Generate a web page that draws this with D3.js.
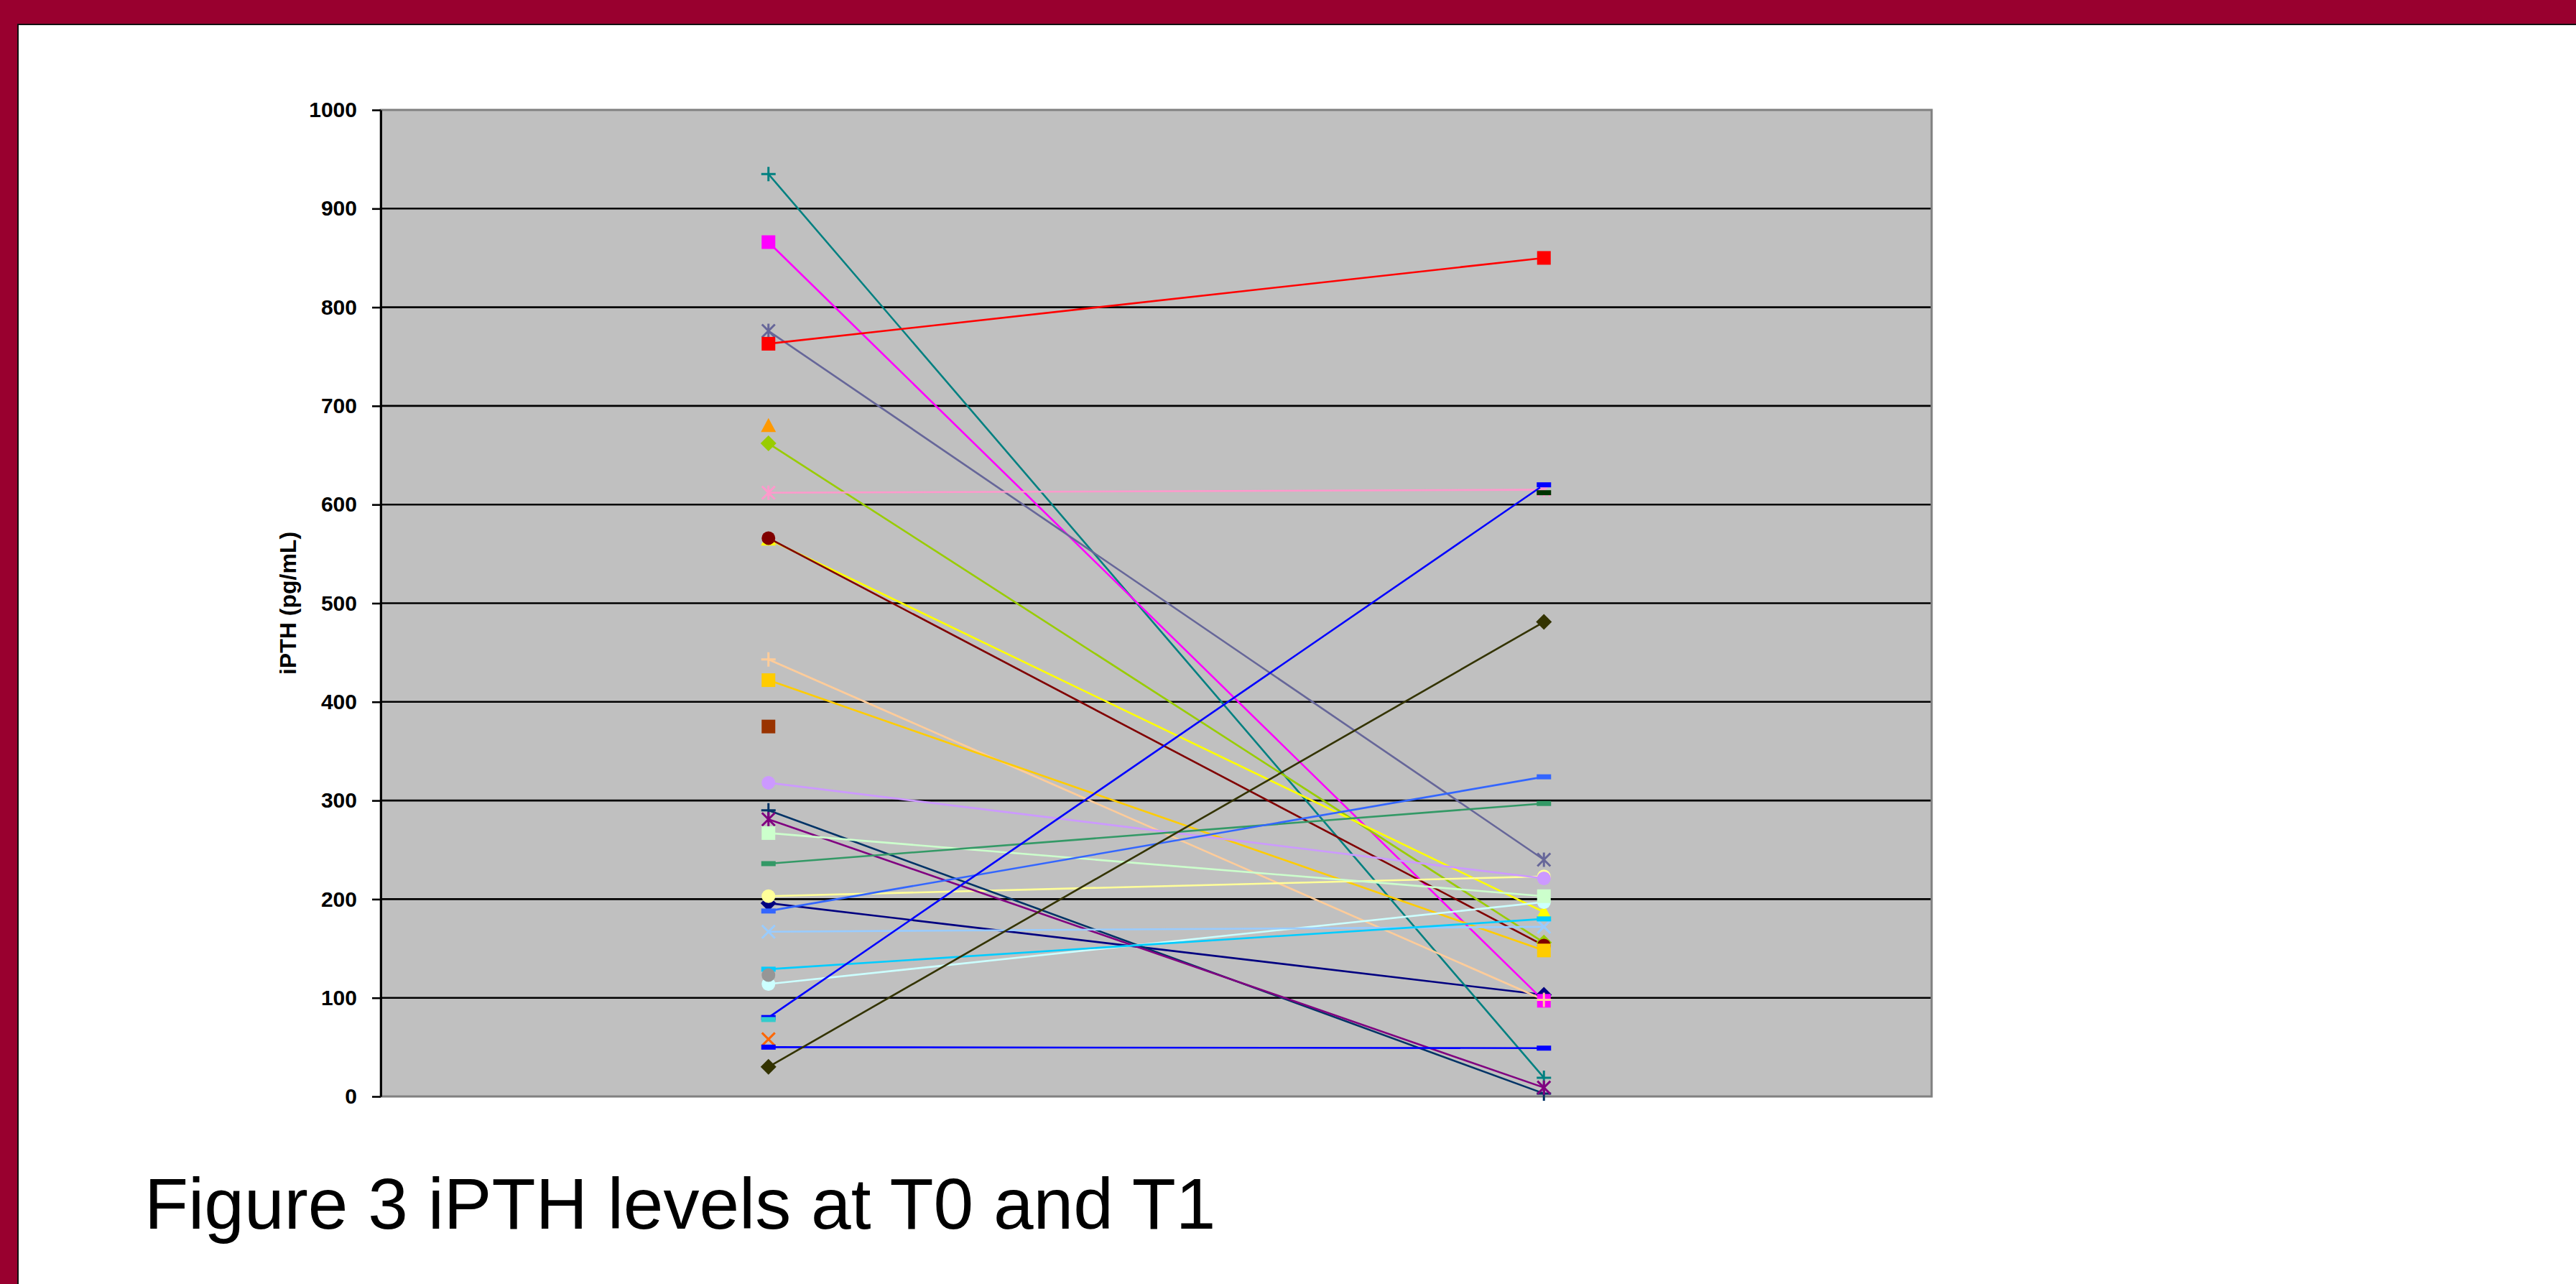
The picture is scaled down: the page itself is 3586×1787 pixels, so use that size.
<!DOCTYPE html>
<html>
<head>
<meta charset="utf-8">
<script src="https://cdn.jsdelivr.net/npm/d3@7"></script>
<style>
  html, body { margin: 0; padding: 0; background: #ffffff; }
  svg { display: block; }
</style>
</head>
<body>
<svg id="fig" width="3586" height="1787"></svg>
<script>
// Time points on the category axis
const categories = ["T0", "T1"];

// One entry per patient; null means no measurement at that time point
const patients = [
  "P01", "P02", "P03", "P04", "P05", "P06", "P07", "P08", "P09", "P10",
  "P11", "P12", "P13", "P14", "P15", "P16", "P17", "P18", "P19", "P20",
  "P21", "P22", "P23", "P24", "P25", "P26", "P27", "P28", "P29", "P30"
];
const t0Values = [
  196, 935, 866, 776, 763, 680, 662, 612, 565, 566,
  443, 422, 375, 203, 318, 290, 281, 114, 267, 236,
  188, 167, 129, 123, null, 80, 78, 58, 50, 30
];
const t1Values = [
  103, 19, 97, 240, 850, null, 156, 615, 187, 153,
  98, 148, null, 223, 221, 3, 9, 197, 203, 297,
  324, 172, 180, null, 612, 620, null, null, 49, 481
];

// Series palette and marker shapes, in series order
const lineColors = [
  "#000080", "#008080", "#FF00FF", "#666699", "#FF0000", "#FF9900", "#99CC00", "#FF99CC", "#FFFF00", "#800000",
  "#FFCC99", "#FFCC00", "#993300", "#FFFF99", "#CC99FF", "#003366", "#800080", "#CCFFFF", "#CCFFCC", "#339966",
  "#3366FF", "#99CCFF", "#00CCFF", "#969696", "#003300", "#0000FF", "#33CCCC", "#FF6600", "#0000FF", "#333300"
];
const markerKinds = [
  "diamond", "plus", "square", "star", "square", "triangle", "diamond", "star", "triangle", "circle",
  "plus", "square", "square", "circle", "circle", "plus", "star", "circle", "square", "dash",
  "dash", "x", "dash", "circle", "dash", "dash", "dash", "x", "dash", "diamond"
];

// Axis labelling
const yTicks = [0, 100, 200, 300, 400, 500, 600, 700, 800, 900, 1000];
const yTitle = "iPTH (pg/mL)";
const caption = "Figure 3 iPTH levels at T0 and T1";

const W = 3586, H = 1787;
const plot = { left: 530, right: 2689, top: 153, bottom: 1526 };
const FONT = "'Liberation Sans', Arial, Helvetica, sans-serif";

const svg = d3.select("#fig");

// Page: dark red frame with a white sheet
svg.append("rect").attr("x", 0).attr("y", 0).attr("width", W).attr("height", H).attr("fill", "#99002F");
svg.append("rect").attr("x", 25).attr("y", 34).attr("width", W - 25).attr("height", H - 34).attr("fill", "#ffffff");
svg.append("path")
  .attr("d", `M25,${H} L25,34 L${W},34`)
  .attr("fill", "none").attr("stroke", "#111").attr("stroke-width", 2);

const x = d3.scaleBand().domain(categories).range([plot.left, plot.right]);
const cx = c => x(c) + x.bandwidth() / 2;
const y = d3.scaleLinear().domain([0, 1000]).range([plot.bottom, plot.top]);

// Plot area
svg.append("rect")
  .attr("x", plot.left).attr("y", plot.top)
  .attr("width", plot.right - plot.left).attr("height", plot.bottom - plot.top)
  .attr("fill", "#C0C0C0");

// Horizontal gridlines
svg.append("g")
  .selectAll("line")
  .data(yTicks.filter(v => v > 0 && v < 1000))
  .join("line")
  .attr("x1", plot.left).attr("x2", plot.right)
  .attr("y1", d => y(d)).attr("y2", d => y(d))
  .attr("stroke", "#000").attr("stroke-width", 2.6);

// Plot border
svg.append("rect")
  .attr("x", plot.left).attr("y", plot.top)
  .attr("width", plot.right - plot.left).attr("height", plot.bottom - plot.top)
  .attr("fill", "none").attr("stroke", "#808080").attr("stroke-width", 3);

// Value axis
const yAxis = svg.append("g")
  .attr("transform", `translate(${plot.left},0)`)
  .call(d3.axisLeft(y).tickValues(yTicks).tickFormat(d3.format("d"))
    .tickSize(12).tickSizeOuter(0).tickPadding(21));
yAxis.select(".domain").attr("stroke", "#000").attr("stroke-width", 3);
yAxis.selectAll(".tick line").attr("stroke", "#000").attr("stroke-width", 2.6);
yAxis.selectAll(".tick text")
  .attr("fill", "#000")
  .style("font-family", FONT).style("font-weight", "bold").style("font-size", "30px");

svg.append("text")
  .attr("transform", `translate(401,${(plot.top + plot.bottom) / 2}) rotate(-90)`)
  .attr("text-anchor", "middle").attr("dominant-baseline", "central")
  .style("font-family", FONT).style("font-weight", "bold").style("font-size", "32px")
  .attr("fill", "#000")
  .text(yTitle);

// Series records
const series = patients.map((name, i) => ({
  name,
  color: lineColors[i],
  kind: markerKinds[i],
  points: categories.map((c, j) => ({ c, v: j === 0 ? t0Values[i] : t1Values[i] }))
}));

// Connecting lines
const line = d3.line()
  .defined(d => d.v !== null)
  .x(d => cx(d.c))
  .y(d => y(d.v));

svg.append("g")
  .selectAll("path")
  .data(series.filter(s => s.points.every(p => p.v !== null)))
  .join("path")
  .attr("d", s => line(s.points))
  .attr("fill", "none")
  .attr("stroke", s => s.color)
  .attr("stroke-width", 2.6);

// Marker glyphs
function markerPath(kind) {
  const p = d3.path();
  switch (kind) {
    case "square": p.rect(-9.5, -9.5, 19, 19); break;
    case "diamond": p.moveTo(0, -11); p.lineTo(11, 0); p.lineTo(0, 11); p.lineTo(-11, 0); p.closePath(); break;
    case "triangle": p.moveTo(0, -10.5); p.lineTo(10.5, 9); p.lineTo(-10.5, 9); p.closePath(); break;
    case "circle": p.moveTo(9.5, 0); p.arc(0, 0, 9.5, 0, 2 * Math.PI); break;
    case "dash": p.rect(-10, -3.5, 20, 7); break;
    case "x":
      p.moveTo(-9, -9); p.lineTo(9, 9); p.moveTo(-9, 9); p.lineTo(9, -9); break;
    case "star":
      p.moveTo(-9, -9); p.lineTo(9, 9); p.moveTo(-9, 9); p.lineTo(9, -9);
      p.moveTo(0, -10); p.lineTo(0, 10); break;
    case "plus":
      p.moveTo(-10, 0); p.lineTo(10, 0); p.moveTo(0, -10); p.lineTo(0, 10); break;
  }
  return p.toString();
}
const strokedKinds = new Set(["x", "star", "plus"]);

const markers = svg.append("g");
series.forEach(s => {
  s.points.filter(p => p.v !== null).forEach(p => {
    const stroked = strokedKinds.has(s.kind);
    markers.append("path")
      .attr("transform", `translate(${cx(p.c)},${y(p.v)})`)
      .attr("d", markerPath(s.kind))
      .attr("fill", stroked ? "none" : s.color)
      .attr("stroke", stroked ? s.color : "none")
      .attr("stroke-width", stroked ? 3 : 0);
  });
});

// Figure caption
svg.append("text")
  .attr("x", 201).attr("y", 1710)
  .style("font-family", FONT).style("font-size", "100px")
  .attr("fill", "#000")
  .text(caption);
</script>
</body>
</html>
